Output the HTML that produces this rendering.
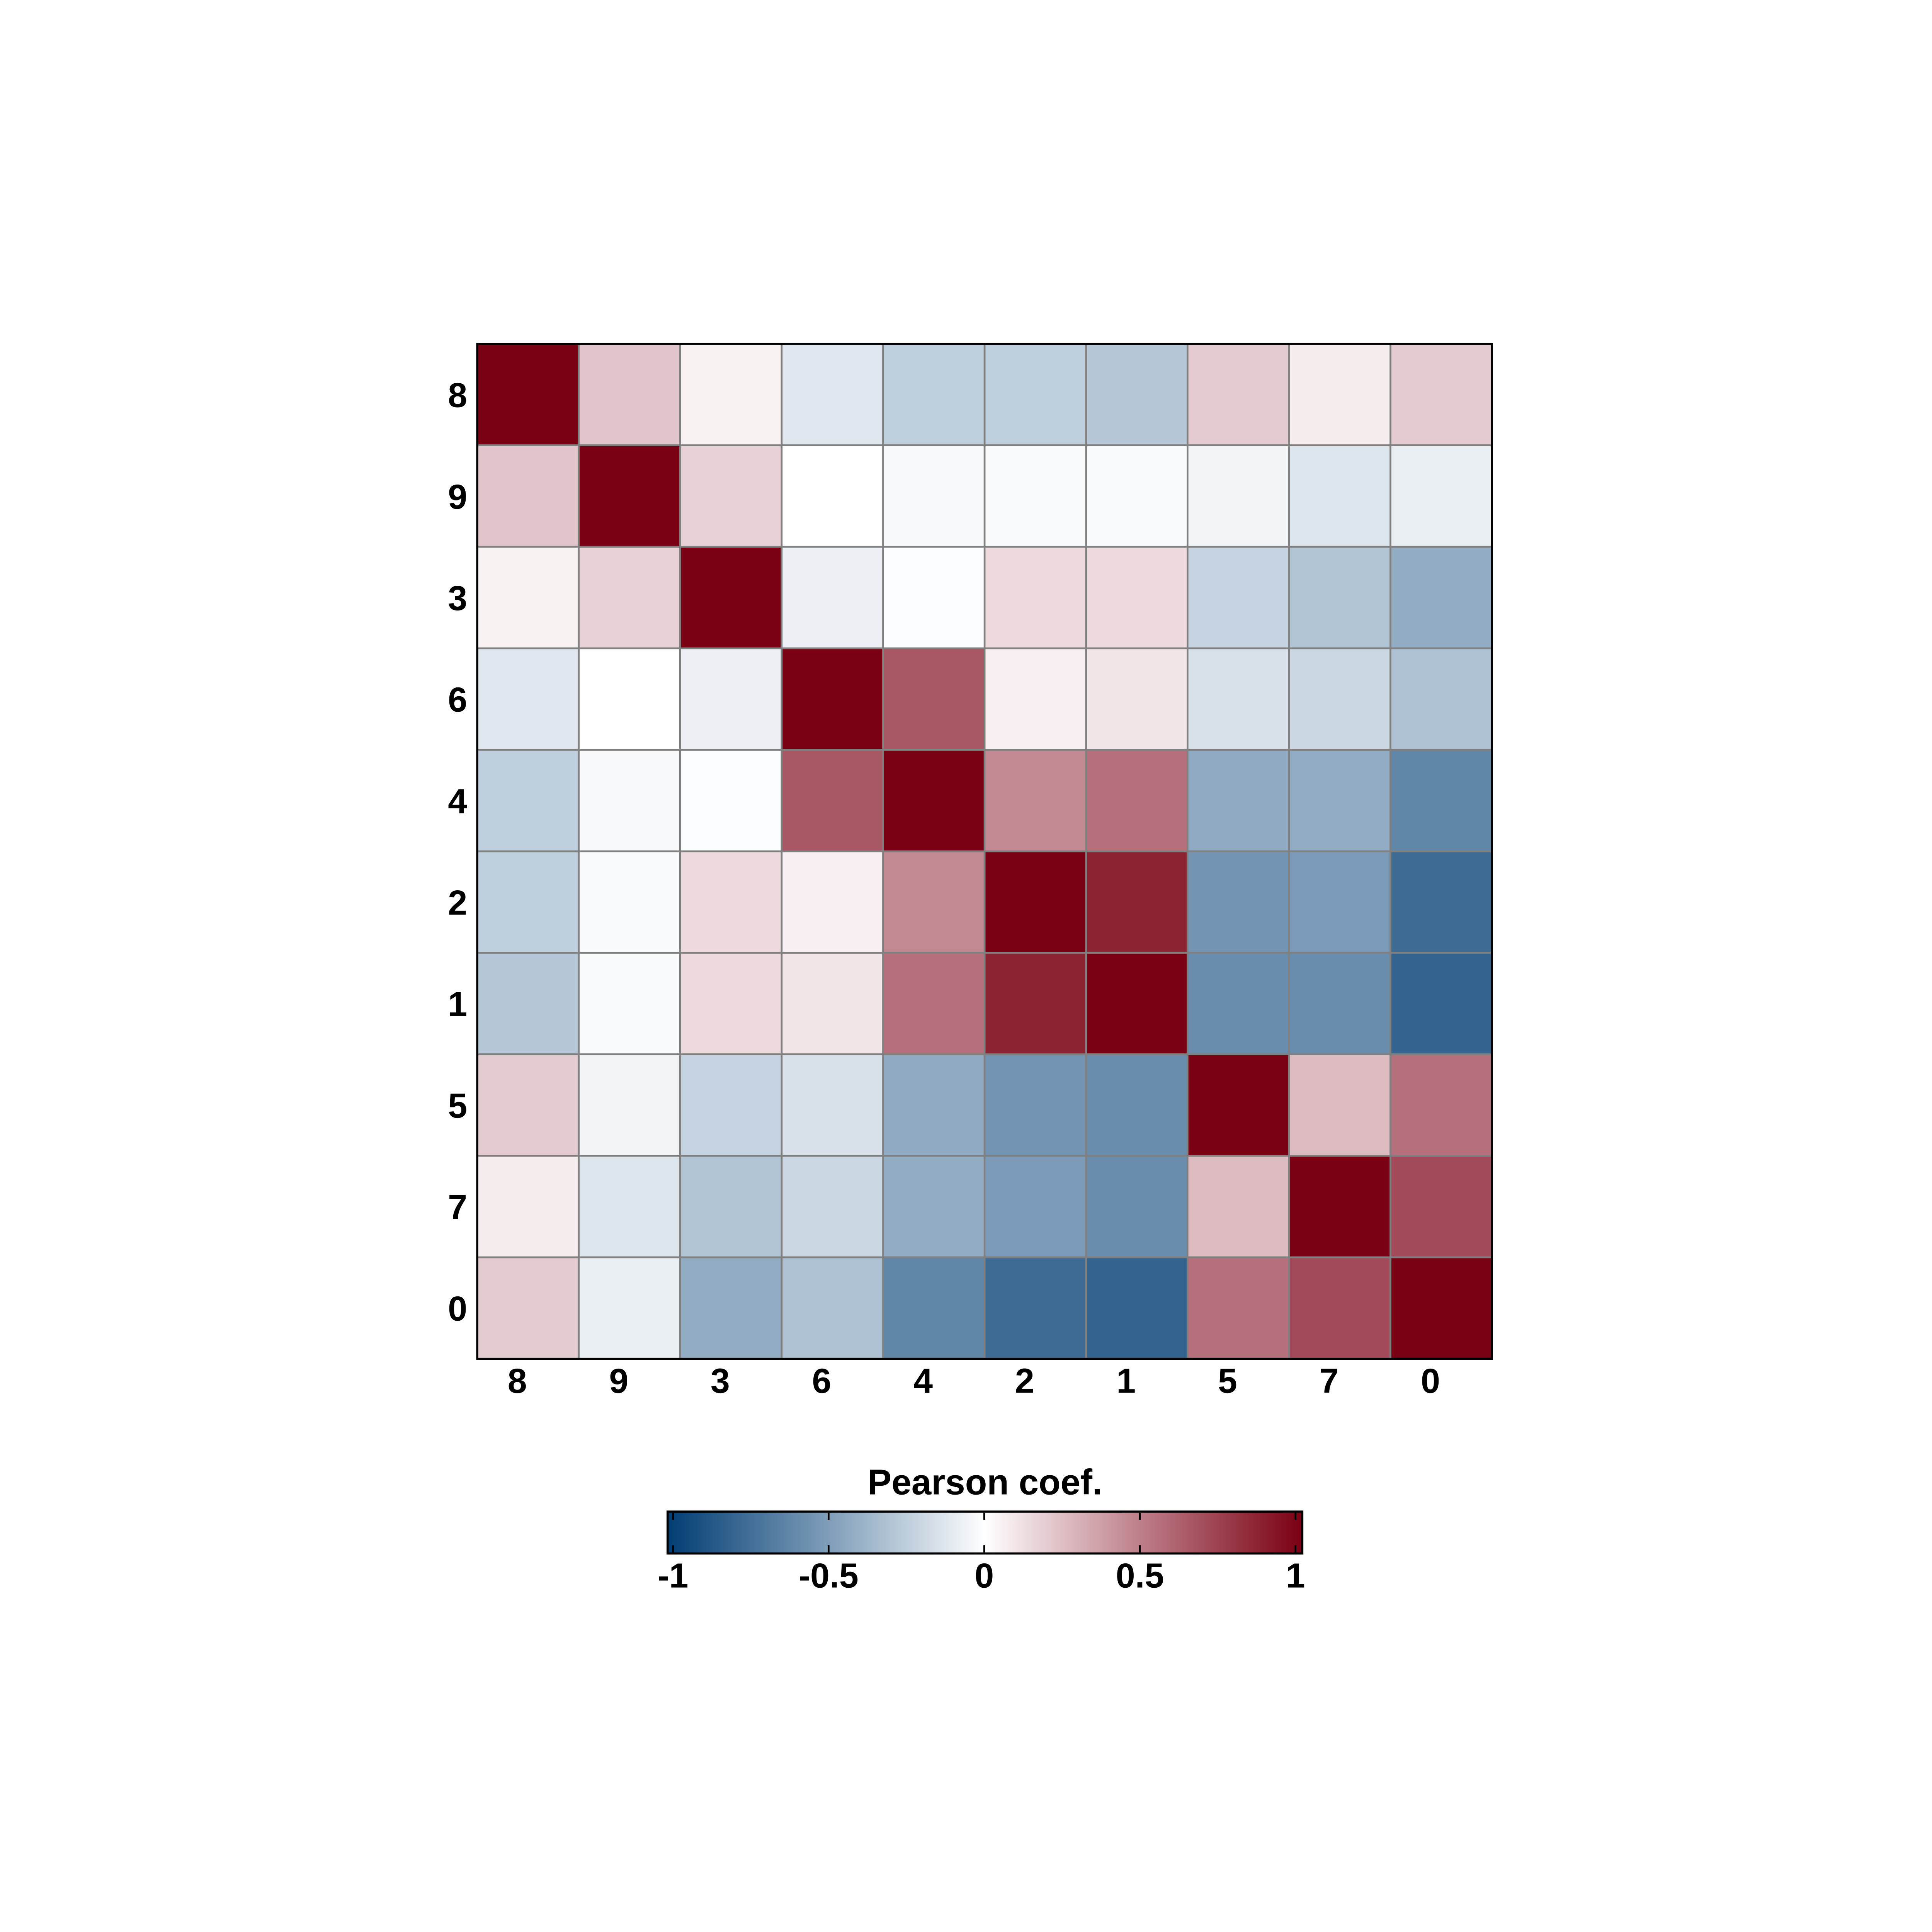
<!DOCTYPE html>
<html><head><meta charset="utf-8"><style>
html,body{margin:0;padding:0;background:#fefefe;width:100vw;height:100vh;overflow:hidden;}
svg{display:block;position:absolute;left:0;top:0;width:100vw;height:100vh;}
text{font-family:"Liberation Sans",sans-serif;font-weight:bold;fill:#000;}
</style></head><body>
<svg id="chart" viewBox="0 0 5400 5400" preserveAspectRatio="none" xmlns="http://www.w3.org/2000/svg">
<rect x="0" y="0" width="5400" height="5400" fill="#fefefe"/>
<defs>
<linearGradient id="cbar" x1="0" x2="1" y1="0" y2="0">
<stop offset="0" stop-color="#023d73"/>
<stop offset="0.25" stop-color="#7d9cb8"/>
<stop offset="0.5" stop-color="#ffffff"/>
<stop offset="0.75" stop-color="#bc7c87"/>
<stop offset="1" stop-color="#7a0013"/>
</linearGradient>
</defs>
<g id="cells"></g>
<rect x="1334" y="961" width="2836" height="2837" fill="none" stroke="#000" stroke-width="6"/>
<g id="xlabels"></g>
<g id="ylabels"></g>
<text x="2753" y="4177" font-size="100" text-anchor="middle">Pearson coef.</text>
<rect x="1866" y="4225" width="1774" height="117" fill="url(#cbar)" stroke="#000" stroke-width="6"/>
<g id="cticks"></g>
</svg>
<script>
const labels = ["8","9","3","6","4","2","1","5","7","0"];
const row8 = [1, 0.22, 0.05, -0.12, -0.25, -0.25, -0.28, 0.2, 0.07, 0.2];
const row9 = [0.22, 1, 0.17, 0, -0.03, -0.02, -0.02, -0.05, -0.13, -0.08];
const row3 = [0.05, 0.17, 1, -0.07, -0.01, 0.14, 0.14, -0.22, -0.3, -0.42];
const row6 = [-0.12, 0, -0.07, 1, 0.65, 0.06, 0.1, -0.15, -0.2, -0.31];
const row4 = [-0.25, -0.03, -0.01, 0.65, 1, 0.45, 0.55, -0.43, -0.42, -0.62];
const row2 = [-0.25, -0.02, 0.14, 0.06, 0.45, 1, 0.86, -0.54, -0.51, -0.76];
const row1 = [-0.28, -0.02, 0.14, 0.1, 0.55, 0.86, 1, -0.58, -0.58, -0.8];
const row5 = [0.2, -0.05, -0.22, -0.15, -0.43, -0.54, -0.58, 1, 0.26, 0.55];
const row7 = [0.07, -0.13, -0.3, -0.2, -0.42, -0.51, -0.58, 0.26, 1, 0.7];
const row0 = [0.2, -0.08, -0.42, -0.31, -0.62, -0.76, -0.8, 0.55, 0.7, 1];
const matrix = [row8,row9,row3,row6,row4,row2,row1,row5,row7,row0];
const cbTicks = [-1,-0.5,0,0.5,1];
const cbTickLabels = ["-1","-0.5","0","0.5","1"];

const NS = "http://www.w3.org/2000/svg";
const X0=1334, Y0=961, W=2836, H=2837, N=labels.length;
const cw=W/N, ch=H/N;
const xPos = i => X0 + i*cw;
const yPos = j => Y0 + j*ch;
const cbX = v => 1881 + (v+1)/2*(3621-1881);
const stops = [[-1,[2,61,115]],[-0.5,[125,156,184]],[0,[255,255,255]],[0.5,[188,124,135]],[1,[122,0,19]]];
function color(v){
  v=Math.max(-1,Math.min(1,v));
  for(let k=0;k<stops.length-1;k++){
    const [a,ca]=stops[k],[b,cb]=stops[k+1];
    if(v<=b){const t=(v-a)/(b-a);
      return "rgb("+ca.map((c,i)=>Math.round(c+(cb[i]-c)*t)).join(",")+")";}
  }
  return "rgb(122,0,19)";
}
const cells=document.getElementById("cells");
matrix.forEach((row,j)=>row.forEach((v,i)=>{
  const r=document.createElementNS(NS,"rect");
  r.setAttribute("x",xPos(i));r.setAttribute("y",yPos(j));
  r.setAttribute("width",cw);r.setAttribute("height",ch);
  r.setAttribute("fill",color(v));r.setAttribute("stroke","#808080");r.setAttribute("stroke-width","5");
  
  
  cells.appendChild(r);
}));
const xl=document.getElementById("xlabels"), yl=document.getElementById("ylabels");
labels.forEach((l,i)=>{
  const t=document.createElementNS(NS,"text");
  t.setAttribute("x",xPos(i)+cw/2-30);t.setAttribute("y",3893);
  t.setAttribute("font-size","97");t.setAttribute("text-anchor","middle");
  t.textContent=l;
  
  
  xl.appendChild(t);
  const u=document.createElementNS(NS,"text");
  u.setAttribute("x",1306);u.setAttribute("y",yPos(i)+ch/2+35);
  u.setAttribute("font-size","97");u.setAttribute("text-anchor","end");
  u.textContent=l;
  
  
  yl.appendChild(u);
});
const ct=document.getElementById("cticks");
cbTicks.forEach((v,k)=>{
  [[4228,4248],[4319,4339]].forEach(([a,b])=>{
    const ln=document.createElementNS(NS,"line");
    ln.setAttribute("x1",cbX(v));ln.setAttribute("x2",cbX(v));
    ln.setAttribute("y1",a);ln.setAttribute("y2",b);
    ln.setAttribute("stroke","#000");ln.setAttribute("stroke-width","5");
    
    
    ct.appendChild(ln);
  });
  const t=document.createElementNS(NS,"text");
  t.setAttribute("x",cbX(v));t.setAttribute("y",4437);
  t.setAttribute("font-size","97");t.setAttribute("text-anchor","middle");
  t.textContent=cbTickLabels[k];
  
  
  ct.appendChild(t);
});
</script>
</body></html>
